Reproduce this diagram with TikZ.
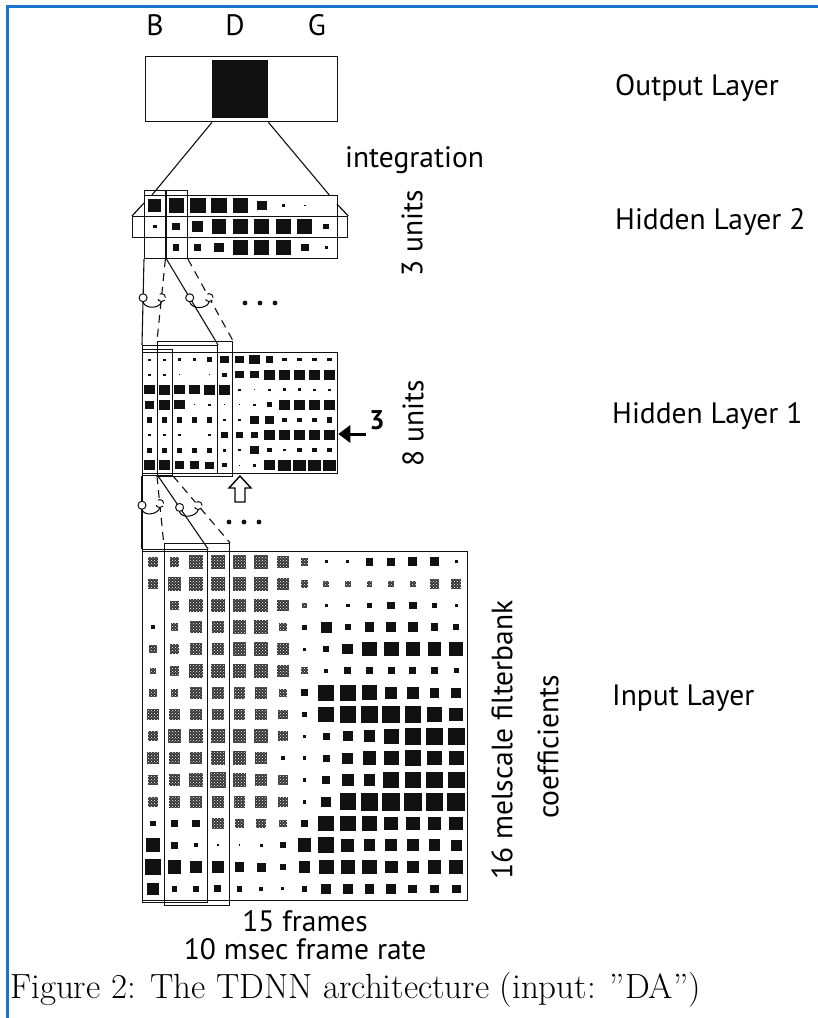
\documentclass[tikz,border=0pt]{standalone}
\usepackage{fontspec}
\newfontfamily\labelfont{PT Sans}
\usepackage{xcolor}
\definecolor{cFrame}{HTML}{1874CD}
\definecolor{cInk}{HTML}{111111}
\usetikzlibrary{positioning,arrows.meta,calc,patterns}
\tikzset{
  layer-box/.style={draw=cInk,line width=1.3pt,rectangle,inner sep=0pt,anchor=north west},
  win-box/.style={draw=cInk,line width=1.1pt,rectangle,inner sep=0pt,anchor=north west},
  link-solid/.style={draw=cInk,line width=1.1pt},
  link-dashed/.style={draw=cInk,line width=1.1pt,dash pattern=on 8pt off 6pt},
  share-ring/.style={draw=cInk,line width=1pt,circle,fill=white,inner sep=0pt,minimum size=8pt},
  cell-black/.style={fill=cInk},
  cell-dith/.style={fill=cInk!85,postaction={pattern=crosshatch dots,pattern color=white}},
  lbl/.style={font=\labelfont\fontsize{29.5}{32}\selectfont,inner sep=0pt},
}

\begin{document}
\begin{tikzpicture}[x=1pt,y=-1pt]
  \fill[white] (0,0) rectangle (818,1018);
  \useasboundingbox (0,0) rectangle (818,1018);
  \draw[cFrame,line width=3pt] (7,1018) -- (7,6) -- (818,6);

  % output layer
  \node[layer-box,minimum width=192pt,minimum height=65pt] (out) at (145,56) {};
  \node[fill=cInk,inner sep=0pt,anchor=north west,minimum width=56pt,minimum height=58pt] (outD) at (212,60) {};
  \node[lbl,anchor=base] (lB) at (155,35) {B};
  \node[lbl,anchor=base] (lD) at (235,35) {D};
  \node[lbl,anchor=base] (lG) at (317,35) {G};

  % hidden layer 2
  \node[layer-box,minimum width=193pt,minimum height=63pt] (h2) at (144,195) {};
  \node[layer-box,minimum width=215pt,minimum height=21pt] (h2mid) at (132,216) {};
  \draw[line width=1.1pt] (h2mid.north west) -- (144,203);
  \draw[line width=1.1pt] (h2mid.north east) -- (337,204);
  \node[win-box,minimum width=21.4pt,minimum height=68pt] (h2c1) at (144,190) {};
  \node[win-box,minimum width=21.4pt,minimum height=68pt] (h2c2) at (165.4,190) {};
  \foreach \row [count=\r] in {{.7,.8,.85,.85,.8,.5,.15,.1,0},
                               {.2,.4,.6,.8,.8,.8,.8,.8,.3},
                               {0,.35,.35,.55,.8,.8,.8,.4,.15}}
    \foreach \v [count=\c] in \row
      \fill[cell-black] ({144+21.44*(\c-.5)-9.3*\v},{195+21*(\r-.5)-9*\v}) rectangle ++({18.6*\v},{18*\v});

  % hidden layer 1
  \node[layer-box,minimum width=195pt,minimum height=121pt] (h1) at (142,352) {};
  \node[win-box,minimum width=15pt,minimum height=126pt] (h1c1) at (142,349) {};
  \node[win-box,minimum width=15pt,minimum height=126pt] (h1c2) at (157,349) {};
  \node[win-box,minimum width=75pt,minimum height=128pt] (h1winA) at (142,345) {};
  \node[win-box,minimum width=75pt,minimum height=135pt] (h1winB) at (157,341) {};
  \foreach \row [count=\r] in {{.15,.15,.2,.25,.4,.55,.6,.7,.5,.3,.3,.3,.3},
                               {.15,.15,.1,0,.1,.3,.55,.55,.8,.8,.8,.8,.8},
                               {.7,.8,.7,.7,.8,.8,.15,.1,.15,.25,.2,.15,.15},
                               {.6,.8,.7,.1,.15,.1,.1,.2,.4,.8,.8,.8,.8},
                               {.4,.4,.4,.4,.4,.2,.15,.6,.6,.35,.35,.35,.4},
                               {.2,.15,.15,0,.2,.5,.5,.5,.8,.8,.8,.8,.8},
                               {.4,.4,.4,.4,.4,.25,.15,.6,.3,.2,.35,.3,.3},
                               {.8,.8,.6,.6,.55,.35,.1,.2,.8,.85,.85,.85,.85}}
    \foreach \v [count=\c] in \row
      \fill[cell-black] ({142+15*(\c-.5)-7.3*\v},{352+15.1*(\r-.5)-6.4*\v}) rectangle ++({14.6*\v},{12.8*\v});

  % input layer
  \node[layer-box,minimum width=325pt,minimum height=349pt] (in) at (142,551) {};
  \node[win-box,minimum width=65pt,minimum height=353pt] (inwinA) at (142,549) {};
  \node[win-box,minimum width=65.3pt,minimum height=362pt] (inwinB) at (163.7,543) {};
  \foreach \row [count=\r] in {{-.5,-.5,-.7,-.7,-.7,-.7,-.6,-.4,.15,.15,.4,.4,.45,.45,.15},
                               {-.5,-.7,-.7,-.7,-.7,-.7,-.6,-.4,-.3,-.3,-.3,-.3,-.3,-.5,-.5},
                               {0,-.5,-.7,-.7,-.7,-.7,-.6,-.3,.15,.2,.3,.4,.4,.3,.15},
                               {.2,-.4,-.6,-.6,-.7,-.7,-.4,.25,.55,.3,.5,.5,.5,.4,.3},
                               {-.4,-.5,-.6,-.6,-.7,-.7,-.6,.15,.3,.55,.75,.75,.75,.7,.7},
                               {-.3,-.5,-.7,-.7,-.7,-.7,-.6,-.35,.2,.35,.35,.35,.35,.35,.25},
                               {-.4,-.4,-.6,-.6,-.6,-.6,-.4,.35,.8,.8,.75,.6,.6,.5,.5},
                               {-.6,-.6,-.6,-.6,-.6,-.6,-.5,.3,.8,.85,.9,.9,.85,.75,.7},
                               {-.5,-.7,-.7,-.7,-.7,-.7,-.5,.15,.35,.5,.6,.75,.85,.85,.85},
                               {-.6,-.6,-.6,-.7,-.7,-.6,.2,.2,.35,.55,.7,.75,.8,.75,.75},
                               {-.5,-.6,-.7,-.8,-.7,-.6,-.5,.2,.4,.6,.6,.8,.8,.85,.85},
                               {-.5,-.6,-.6,-.6,-.6,-.6,-.5,.2,.5,.85,.9,.9,.9,.9,.9},
                               {.3,.4,.4,-.6,-.5,-.5,-.4,.4,.8,.8,.8,.7,.7,.7,.7},
                               {.7,.35,.2,.1,.1,.15,.3,.7,.8,.65,.6,.6,.6,.6,.55},
                               {.85,.7,.6,.6,.5,.45,.3,.6,.75,.75,.75,.65,.65,.7,.7},
                               {.6,.3,.3,.35,.3,.2,.15,.3,.5,.5,.5,.5,.45,.45,.45}}
    \foreach \v [count=\c] in \row {
      \pgfmathsetmacro\sz{9.8*abs(\v)}
      \ifdim \v pt<0pt
        \path[cell-dith] ({142+21.67*(\c-.5)-\sz},{551+21.8*(\r-.5)-\sz}) rectangle ++({2*\sz},{2*\sz});
      \else
        \path[cell-black] ({142+21.67*(\c-.5)-\sz},{551+21.8*(\r-.5)-\sz}) rectangle ++({2*\sz},{2*\sz});
      \fi
    }

  % connections
  \draw[link-solid] (outD.west |- out.south) -- ([xshift=8pt]h2.north west);
  \draw[link-solid] (outD.east |- out.south) -- ([xshift=-9pt]h2.north east);
  \draw[link-solid] (h2c1.south west) -- node[share-ring,pos=.45] (r1) {} (h1winA.north west);
  \draw[link-dashed] (h2c2.south west) -- node[share-ring,pos=.47] (r2) {} (h1winB.north west);
  \draw[link-solid] (h2c1.south east) -- node[share-ring,pos=.45] (r3) {} (h1winA.north east);
  \draw[link-dashed] (h2c2.south east) -- node[share-ring,pos=.47] (r4) {} (h1winB.north east);
  \draw[line width=1pt] (r1.south) to[out=-70,in=-110] (r2.south);
  \draw[line width=1pt] (r3.south) to[out=-70,in=-110] (r4.south);
  \draw[link-solid] (h1c1.south west) -- node[share-ring,pos=.4] (s1) {} (inwinA.north west);
  \draw[link-dashed] (h1c2.south west) -- node[share-ring,pos=.41] (s2) {} (inwinB.north west);
  \draw[link-solid] (h1c1.south east) -- node[share-ring,pos=.43] (s3) {} (inwinA.north east);
  \draw[link-dashed] (h1c2.south east) -- node[share-ring,pos=.44] (s4) {} (inwinB.north east);
  \draw[line width=1pt] (s1.south) to[out=-70,in=-110] (s2.south);
  \draw[line width=1pt] (s3.south) to[out=-70,in=-110] (s4.south);
  \foreach \k in {0,1,2} {
    \fill[cInk] (245+15*\k,303) circle (2.4pt);
    \fill[cInk] (229+15*\k,522) circle (2.4pt);
  }

  % arrows at hidden layer 1
  \coordinate (upTip) at (240,476);
  \draw[line width=1.4pt,line join=miter] (upTip) -- ++(11,12) -- ++(-6,0) -- ++(0,14)
    -- ++(-10,0) -- ++(0,-14) -- ++(-6,0) -- cycle;
  \coordinate (arr3) at (366,434);
  \draw[line width=3pt,-{Triangle[length=12pt,width=17pt]}] (arr3) -- (h1.east |- arr3);
  \node[lbl,font=\labelfont\bfseries\fontsize{27}{28}\selectfont] (n3) at (377,420) {3};

  % labels
  \node[lbl,anchor=base west] (tOut) at (615,95) {Output Layer};
  \node[lbl,anchor=base west] (tInt) at (345,167) {integration};
  \node[lbl,anchor=base west] (tH2) at (615,229) {Hidden Layer 2};
  \node[lbl,rotate=90] (tU3) at (412,233) {3 units};
  \node[lbl,anchor=base west] (tH1) at (612,423) {Hidden Layer 1};
  \node[lbl,rotate=90] (tU8) at (413,423) {8 units};
  \node[lbl,rotate=90] (tMel) at (502,740) {16 melscale filterbank};
  \node[lbl,rotate=90] (tCoef) at (548,747) {coefficients};
  \node[lbl,anchor=base west] (tIn) at (612,705) {Input Layer};
  \node[lbl,below=9pt of in] (tFr) {15 frames};
  \node[lbl,below=6pt of tFr] (tRate) {10 msec frame rate};
  \node[anchor=base west,inner sep=0pt,font=\fontsize{35}{40}\selectfont] (cap) at (10,998)
    {Figure 2: The TDNN architecture (input: ”DA”)};
\end{tikzpicture}
\end{document}
